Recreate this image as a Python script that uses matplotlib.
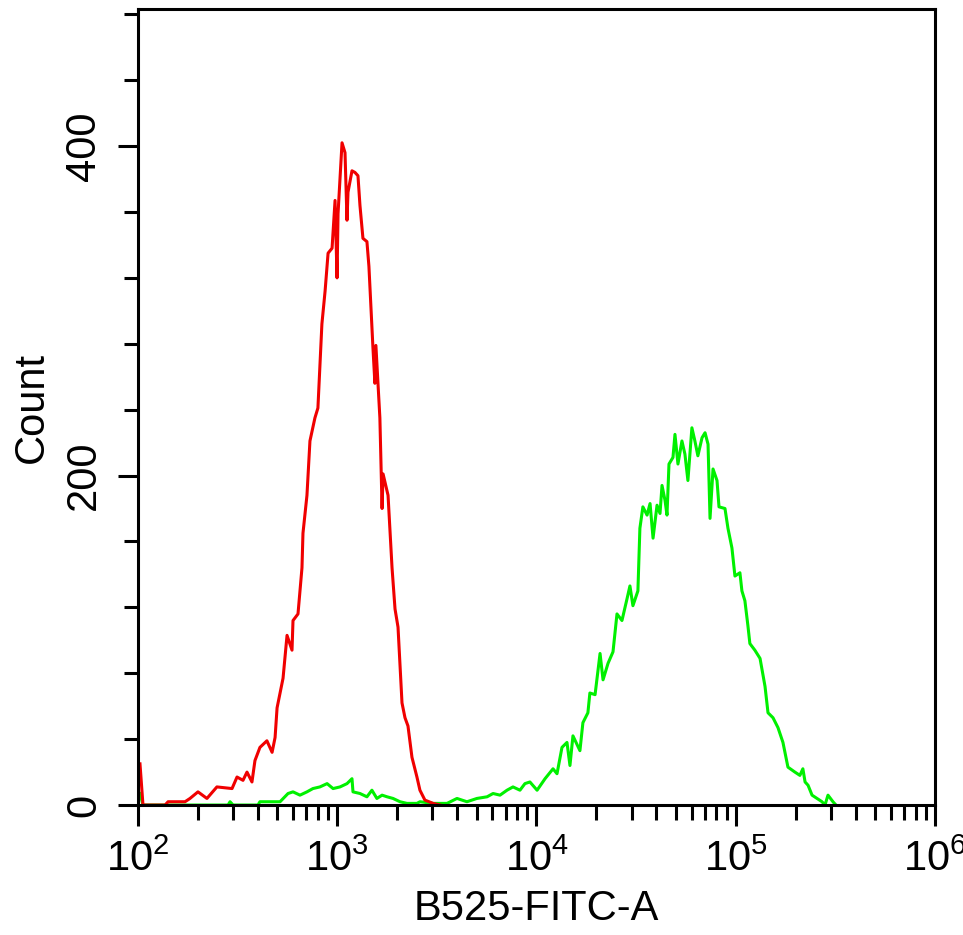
import numpy as np
import matplotlib
matplotlib.use("Agg")
import matplotlib.pyplot as plt
from matplotlib.ticker import MultipleLocator, LogLocator, LogFormatterSciNotation, NullFormatter

plt.rcParams['font.family'] = ['Liberation Sans', 'DejaVu Sans']
plt.rcParams['mathtext.fontset'] = 'custom'
plt.rcParams['mathtext.rm'] = 'Liberation Sans'
plt.rcParams['mathtext.it'] = 'Liberation Sans'

# isotype control (red): log10 of B525-FITC-A intensity and event count
red_log = [2.010, 2.025, 2.136, 2.151, 2.236, 2.261, 2.301, 2.346, 2.396, 2.472,
           2.497, 2.527, 2.547, 2.572, 2.587, 2.612, 2.647, 2.673, 2.688, 2.698,
           2.713, 2.728, 2.748, 2.773, 2.778, 2.803, 2.823, 2.828, 2.848, 2.863,
           2.888, 2.903, 2.923, 2.939, 2.954, 2.974, 2.989, 2.999, 3.004, 3.024,
           3.039, 3.049, 3.054, 3.074, 3.089, 3.104, 3.114, 3.129, 3.149, 3.159,
           3.179, 3.189, 3.194, 3.214, 3.225, 3.230, 3.255, 3.275, 3.290, 3.305,
           3.325, 3.340, 3.355, 3.375, 3.400, 3.415, 3.440, 3.481, 3.516]
red_count = [25, 0, 0, 2, 2, 4, 8, 4, 11, 10,
             17, 15, 20, 14, 27, 35, 39, 32, 41, 59,
             68, 77, 103, 94, 112, 116, 144, 165, 188, 221,
             235, 241, 292, 312, 335, 338, 367, 320, 359, 402,
             396, 355, 372, 385, 384, 382, 364, 344, 342, 327,
             278, 256, 279, 235, 180, 201, 188, 144, 119, 108,
             62, 53, 48, 29, 17, 9, 3, 1, 0]

# stained sample (green)
green_log = [2.010, 2.025, 2.452, 2.462, 2.477, 2.602, 2.612, 2.713, 2.753, 2.778,
             2.813, 2.848, 2.878, 2.913, 2.949, 2.979, 3.014, 3.049, 3.074, 3.079,
             3.114, 3.149, 3.174, 3.199, 3.225, 3.250, 3.280, 3.315, 3.350, 3.400,
             3.415, 3.481, 3.551, 3.601, 3.651, 3.701, 3.752, 3.782, 3.817, 3.852,
             3.882, 3.917, 3.942, 3.967, 4.003, 4.043, 4.083, 4.103, 4.128, 4.153,
             4.168, 4.183, 4.218, 4.233, 4.258, 4.268, 4.294, 4.319, 4.334, 4.359,
             4.384, 4.404, 4.429, 4.454, 4.469, 4.484, 4.509, 4.519, 4.534, 4.555,
             4.570, 4.585, 4.605, 4.620, 4.630, 4.645, 4.655, 4.665, 4.685, 4.695,
             4.710, 4.730, 4.745, 4.760, 4.780, 4.795, 4.810, 4.831, 4.846, 4.861,
             4.871, 4.886, 4.906, 4.916, 4.946, 4.961, 4.981, 4.996, 5.021, 5.031,
             5.046, 5.061, 5.071, 5.096, 5.122, 5.147, 5.162, 5.187, 5.212, 5.237,
             5.262, 5.297, 5.322, 5.337, 5.348, 5.363, 5.383, 5.408, 5.433, 5.448,
             5.463, 5.488, 5.503]
green_count = [7, 0, 0, 2, 0, 0, 2, 2, 7, 8,
               6, 8, 10, 11, 13, 10, 11, 13, 16, 8,
               7, 5, 9, 4, 6, 5, 4, 2, 1, 1,
               2, 1, 1, 4, 2, 4, 5, 7, 6, 9,
               11, 9, 13, 14, 9, 16, 22, 19, 35, 38,
               24, 42, 33, 50, 56, 68, 67, 92, 76, 86,
               93, 116, 112, 125, 133, 121, 130, 168, 181, 176,
               183, 162, 182, 177, 194, 185, 176, 207, 211, 225,
               207, 221, 213, 197, 229, 221, 212, 223, 226, 219,
               174, 204, 197, 181, 180, 168, 156, 139, 141, 130,
               124, 109, 98, 94, 89, 72, 56, 53, 47, 38,
               23, 20, 18, 22, 14, 12, 6, 4, 2, 0,
               6, 2, 0]

fig = plt.figure(figsize=(9.63, 9.35), dpi=100)
ax = fig.add_axes([0.1433, 0.139, 0.8276, 0.851])

ax.plot(10 ** np.array(green_log), green_count, color='#00f000', lw=2.2)
ax.plot(10 ** np.array(red_log), red_count, color='#f00000', lw=2.2)

ax.set_xscale('log')
ax.set_xlim(1e2, 1e6)
ax.set_ylim(0, 483)

ax.xaxis.set_major_locator(LogLocator(base=10))
ax.xaxis.set_major_formatter(LogFormatterSciNotation())
ax.xaxis.set_minor_locator(LogLocator(base=10, subs=np.arange(2, 10)))
ax.xaxis.set_minor_formatter(NullFormatter())
ax.yaxis.set_major_locator(MultipleLocator(200))
ax.yaxis.set_minor_locator(MultipleLocator(40))

for s in ax.spines.values():
    s.set_linewidth(2.2)

ax.tick_params(which='both', direction='out', width=2.2, top=False, right=False)
ax.tick_params(axis='x', which='major', length=15, labelsize=30, pad=10)
ax.tick_params(axis='x', which='minor', length=11)
ax.tick_params(axis='y', which='major', length=14.5, labelsize=30, pad=10)
ax.tick_params(axis='y', which='minor', length=10)
for lab in ax.get_yticklabels():
    lab.set_rotation(90)
    lab.set_va('center')

ax.set_xlabel('B525-FITC-A', fontsize=30)
ax.set_ylabel('Count', fontsize=30)
ax.xaxis.set_label_coords(0.5, -0.1055)
ax.yaxis.set_label_coords(-0.108, 0.5)

fig.savefig('out.png', dpi=100)
